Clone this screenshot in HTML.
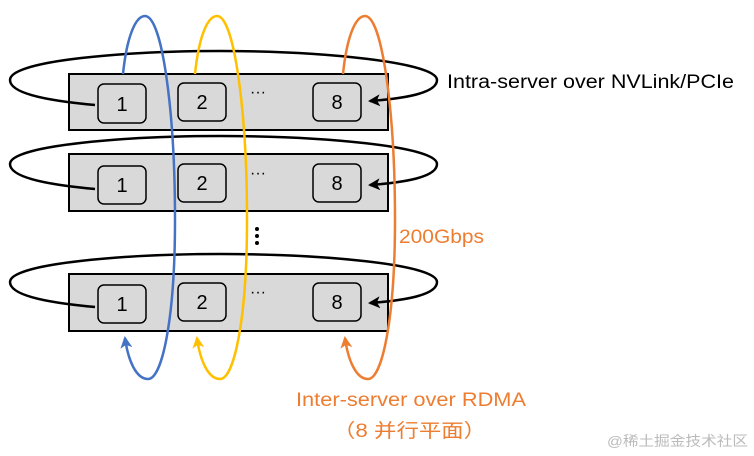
<!DOCTYPE html>
<html><head><meta charset="utf-8"><style>
html,body{margin:0;padding:0;background:#fff;width:754px;height:456px;overflow:hidden}
svg{display:block}
text{font-family:"Liberation Sans","Noto Sans CJK SC",sans-serif}
</style></head><body>
<svg width="754" height="456" viewBox="0 0 754 456" xmlns="http://www.w3.org/2000/svg">
<defs>
<marker id="ak" markerWidth="12" markerHeight="12" refX="10" refY="6" orient="auto" markerUnits="userSpaceOnUse"><path d="M0,0 L12,6 L0,12 L3,6 Z" fill="#000"/></marker>
<marker id="ab" markerWidth="12" markerHeight="12" refX="10" refY="6" orient="auto" markerUnits="userSpaceOnUse"><path d="M0,0 L12,6 L0,12 L3,6 Z" fill="#4472C4"/></marker>
<marker id="ay" markerWidth="12" markerHeight="12" refX="10" refY="6" orient="auto" markerUnits="userSpaceOnUse"><path d="M0,0 L12,6 L0,12 L3,6 Z" fill="#FFC000"/></marker>
<marker id="ao" markerWidth="12" markerHeight="12" refX="10" refY="6" orient="auto" markerUnits="userSpaceOnUse"><path d="M0,0 L12,6 L0,12 L3,6 Z" fill="#ED7D31"/></marker>
</defs>

<g stroke="#000" stroke-width="2" fill="#d9d9d9">
<rect x="69" y="74" width="319" height="56"/>
<rect x="69" y="154" width="319" height="57"/>
<rect x="69" y="274" width="319" height="57"/>
</g>
<g stroke="#000" stroke-width="1.5" fill="#d9d9d9">
<rect x="98" y="84" width="48" height="39" rx="6"/>
<rect x="178" y="83" width="48" height="38" rx="6"/>
<rect x="313" y="83" width="48" height="38" rx="6"/>
<rect x="98" y="166" width="48" height="38" rx="6"/>
<rect x="178" y="164" width="48" height="38" rx="6"/>
<rect x="313" y="164" width="48" height="38" rx="6"/>
<rect x="98" y="285" width="48" height="38" rx="6"/>
<rect x="178" y="283" width="48" height="38" rx="6"/>
<rect x="313" y="283" width="48" height="38" rx="6"/>
</g>
<g font-size="20" text-anchor="middle" fill="#000">
<text x="122" y="111">1</text><text x="202" y="109">2</text><text x="337" y="109">8</text>
<text x="122" y="192">1</text><text x="202" y="190">2</text><text x="337" y="190">8</text>
<text x="122" y="311">1</text><text x="202" y="309">2</text><text x="337" y="309">8</text>
</g>
<g font-size="16" fill="#000"><text x="250" y="97">···</text><text x="250" y="178">···</text><text x="250" y="297">···</text></g>
<g fill="#000"><circle cx="257" cy="229" r="2"/><circle cx="257" cy="236" r="2"/><circle cx="257" cy="243" r="2"/></g>

<g stroke="#000" stroke-width="2.5" fill="none">
<path d="M95,105 C40,100 10,92 10,80 C10,60 130,51 220,51 C320,51 437,62 437,80 C437,92 410,98 370,101" marker-end="url(#ak)"/>
<path d="M95,189 C40,184 10,176 10,164 C10,145 130,136 220,136 C320,136 437,146 437,164 C437,176 410,182 370,185" marker-end="url(#ak)"/>
<path d="M95,307 C40,302 10,294 10,282 C10,263 130,254 220,254 C320,254 437,264 437,282 C437,294 410,300 370,303" marker-end="url(#ak)"/>
</g>

<g fill="none" stroke-width="2.5">
<path d="M123,74 C127,35 136,16 145,16 C162,16 175,110 175,220 C175,320 162,379 148,379 C136,379 128,360 125,338" stroke="#4472C4" marker-end="url(#ab)"/>
<path d="M195,74 C199,35 208,16 217,16 C234,16 247,110 247,220 C247,320 234,379 220,379 C208,379 200,360 197,338" stroke="#FFC000" marker-end="url(#ay)"/>
<path d="M343,74 C347,35 356,16 365,16 C382,16 395,110 395,220 C395,320 382,379 368,379 C356,379 348,360 345,338" stroke="#ED7D31" marker-end="url(#ao)"/>
</g>

<g font-size="19">
<text x="447" y="88" fill="#000" textLength="287" lengthAdjust="spacingAndGlyphs">Intra-server over NVLink/PCIe</text>
<text x="399" y="243" fill="#ED7D31" textLength="85" lengthAdjust="spacingAndGlyphs">200Gbps</text>
<text x="296" y="406" fill="#ED7D31" textLength="230" lengthAdjust="spacingAndGlyphs">Inter-server over RDMA</text>
<text x="333" y="437" fill="#ED7D31" textLength="153" lengthAdjust="spacingAndGlyphs">（8 并行平面）</text>
</g>
<text x="607" y="446" font-size="14" fill="#bbb" textLength="141" lengthAdjust="spacingAndGlyphs">@稀土掘金技术社区</text>
</svg>
</body></html>
